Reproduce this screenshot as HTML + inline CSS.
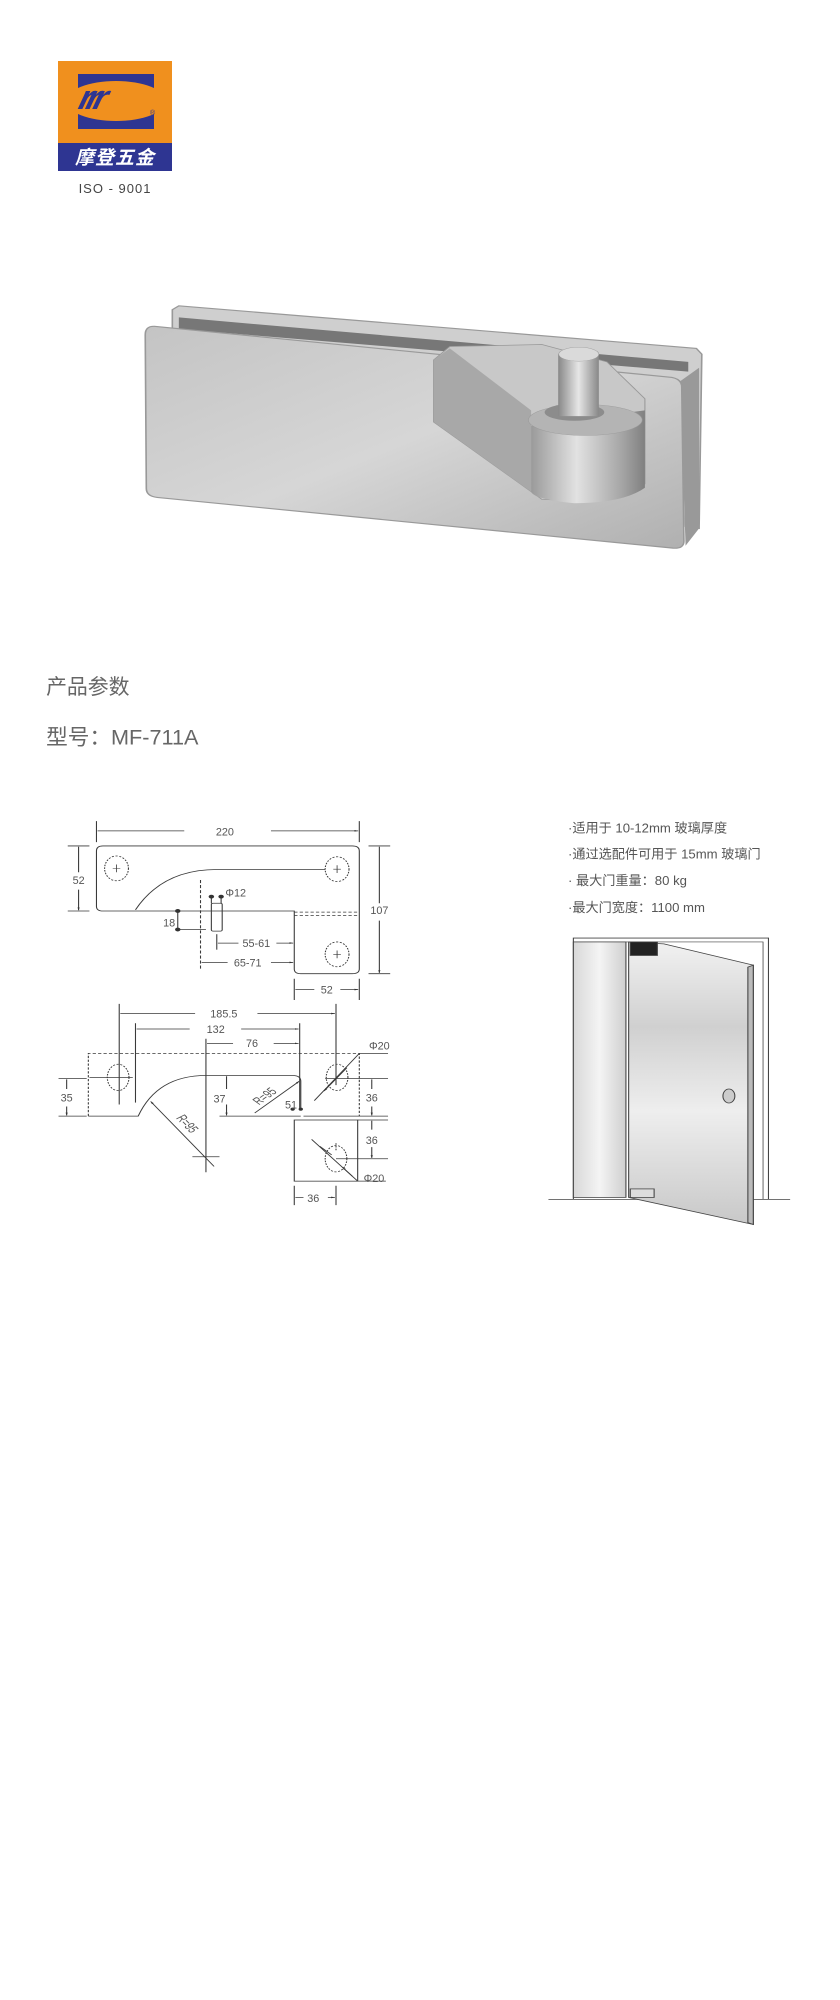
<!DOCTYPE html>
<html><head><meta charset="utf-8"><style>
html,body{margin:0;padding:0;background:#fff;}
body{width:840px;height:2000px;position:relative;overflow:hidden;font-family:"Liberation Sans","Noto Sans CJK SC",sans-serif;}
svg{position:absolute;left:0;}
.t{font-family:"Liberation Sans","Noto Sans CJK SC",sans-serif;fill:#555;}
</style></head><body>

<!-- logo -->
<div style="position:absolute;left:58px;top:61px;width:114px;height:82px;background:#f0901e;overflow:hidden;">
  <div style="position:absolute;left:20px;top:13px;width:76px;height:55px;background:#2e3592;"></div>
  <div style="position:absolute;left:8px;top:20px;width:100px;height:40px;border-radius:50%;background:#f0901e;"></div>
  <div style="position:absolute;left:22px;top:18px;font:italic bold 34px 'Liberation Sans',sans-serif;color:#2e3592;letter-spacing:-6px;transform:skewX(-15deg);">rrr</div>
  <div style="position:absolute;left:92px;top:49px;font:7px 'Liberation Sans',sans-serif;color:#2e3592;">®</div>
</div>
<div style="position:absolute;left:58px;top:143px;width:114px;height:28px;background:#2e3592;color:#fff;font:italic bold 19px 'Noto Sans CJK SC',sans-serif;line-height:28px;text-align:center;letter-spacing:1px;">摩登五金</div>
<div style="position:absolute;left:58px;top:181px;width:114px;text-align:center;font:13px 'Liberation Sans',sans-serif;color:#444;letter-spacing:1px;">ISO - 9001</div>

<!-- product -->
<svg style="top:0" width="840" height="600" viewBox="0 0 1550 1550" preserveAspectRatio="none">
<defs>
<linearGradient id="g1" x1="0" y1="0" x2="1" y2="1"><stop offset="0" stop-color="#c4c4c4"/><stop offset=".5" stop-color="#d6d6d6"/><stop offset="1" stop-color="#b0b0b0"/></linearGradient>
<linearGradient id="g2" x1="0" y1="0" x2="1" y2="0"><stop offset="0" stop-color="#9a9a9a"/><stop offset=".4" stop-color="#e2e2e2"/><stop offset=".8" stop-color="#a5a5a5"/><stop offset="1" stop-color="#808080"/></linearGradient>
<linearGradient id="g3" x1="0" y1="0" x2="1" y2="0"><stop offset="0" stop-color="#888"/><stop offset=".5" stop-color="#e6e6e6"/><stop offset="1" stop-color="#888"/></linearGradient>
</defs>
<polygon points="318,800 330,790 1285,900 1295,915 1290,1365 1265,1360 1262,1000 318,870" fill="#cfcfcf" stroke="#999" stroke-width="3"/>
<polygon points="330,820 1270,935 1270,960 330,850" fill="#777"/>
<polygon points="1255,985 1290,950 1290,1365 1265,1410" fill="#999"/>
<path d="M285,843 L1240,975 Q1258,980 1258,1000 L1262,1398 Q1262,1418 1242,1416 L290,1285 Q270,1282 270,1262 L268,865 Q268,842 285,843 Z" fill="url(#g1)" stroke="#999" stroke-width="3"/>
<path d="M800,930 L830,895 L1000,890 L1120,935 L1190,1030 L1190,1250 L1100,1295 L1000,1290 L800,1090 Z" fill="#c8c8c8" stroke="#999" stroke-width="2"/>
<polygon points="800,930 830,900 980,1060 980,1270 800,1090" fill="#a8a8a8"/>
<path d="M980,1100 L1190,1060 L1190,1260 Q1150,1300 1060,1300 Q985,1290 980,1270 Z" fill="url(#g2)"/>
<ellipse cx="1080" cy="1085" rx="105" ry="40" fill="#b4b4b4" stroke="#999"/>
<ellipse cx="1060" cy="1065" rx="55" ry="22" fill="#8c8c8c"/>
<rect x="1030" y="915" width="75" height="160" fill="url(#g3)"/>
<ellipse cx="1068" cy="915" rx="37" ry="18" fill="#dadada" stroke="#999"/>
</svg>

<!-- section 2 -->
<svg style="top:640px" width="840" height="600" viewBox="0 0 1550 1550" preserveAspectRatio="none">
<defs>
<marker id="a" viewBox="0 0 10 10" refX="10" refY="5" markerWidth="7" markerHeight="7" orient="auto-start-reverse" markerUnits="userSpaceOnUse"><path d="M0,2 L10,5 L0,8 Z" fill="#333"/></marker>
<linearGradient id="dg" x1="0" y1="0" x2="0" y2="1"><stop offset="0" stop-color="#f2f2f2"/><stop offset=".3" stop-color="#d0d0d0"/><stop offset=".6" stop-color="#eeeeee"/><stop offset="1" stop-color="#c8c8c8"/></linearGradient>
<linearGradient id="dg2" x1="0" y1="0" x2="1" y2="0"><stop offset="0" stop-color="#d8d8d8"/><stop offset=".5" stop-color="#f4f4f4"/><stop offset="1" stop-color="#cfcfcf"/></linearGradient>
</defs>
<g class="t">
<text transform="translate(85 140) scale(.714 1)" font-size="54" fill="#666">产品参数</text>
<text transform="translate(85 270) scale(.714 1)" font-size="56" fill="#666">型号：MF-711A</text>
</g>

<g fill="none" stroke="#3a3a3a" stroke-width="2">
<path d="M190,532 H650 Q663,532 663,545 V850 Q663,862 650,862 H555 Q543,862 543,850 V700 H190 Q178,700 178,688 V545 Q178,532 190,532 Z"/>
<path d="M250,697 Q300,593 400,593 H600"/>
<path d="M543,703 H663 M543,712 H663" stroke-dasharray="6,4"/>
<ellipse cx="215" cy="590" rx="22" ry="32" stroke-dasharray="4,3"/>
<ellipse cx="622" cy="592" rx="22" ry="32" stroke-dasharray="4,3"/>
<ellipse cx="622" cy="812" rx="22" ry="32" stroke-dasharray="4,3"/>
<path d="M208,590 H222 M215,580 V600 M615,592 H629 M622,582 V602 M615,812 H629 M622,802 V822" stroke-width="1.5"/>
<path d="M178,468 V522 M663,468 V522"/>
<path d="M340,493 H180 M500,493 H661" marker-end="url(#a)"/>
<path d="M125,532 H165 M125,700 H165"/>
<path d="M145,600 V534 M145,645 V698" marker-end="url(#a)"/>
<path d="M680,532 H720 M680,862 H720"/>
<path d="M700,680 V534 M700,725 V860" marker-end="url(#a)"/>
<path d="M328,700 V748 M328,748 H380"/>
<path d="M370,620 V850" stroke-dasharray="8,5"/>
<rect x="390" y="680" width="20" height="72" rx="3"/>
<path d="M390,663 V680 M408,663 V680"/>
<path d="M400,760 V800"/>
<path d="M440,783 H402 M510,783 H541" marker-end="url(#a)"/>
<path d="M420,833 H372 M500,833 H541" marker-end="url(#a)"/>
<path d="M543,875 V930 M663,875 V930"/>
<path d="M580,903 H545 M628,903 H661" marker-end="url(#a)"/>
<path d="M220,940 V1200 M620,940 V1150"/>
<path d="M360,965 H222 M475,965 H618" marker-end="url(#a)"/>
<path d="M250,990 V1195"/>
<path d="M350,1005 H252 M445,1005 H551" marker-end="url(#a)"/>
<path d="M553,990 V1215 M380,1030 V1375"/>
<path d="M430,1042 H382 M505,1042 H551" marker-end="url(#a)"/>
<path d="M163,1230 V1068 H663 V1230" stroke-dasharray="6,4"/>
<path d="M163,1230 H255 Q290,1125 380,1125 H540 Q555,1125 555,1140 V1215"/>
<ellipse cx="218" cy="1130" rx="20" ry="34" stroke-dasharray="4,3"/>
<ellipse cx="622" cy="1130" rx="20" ry="34" stroke-dasharray="4,3"/>
<path d="M165,1130 H245"/>
<path d="M395,1360 L278,1192" marker-end="url(#a)"/>
<path d="M355,1335 H405"/>
<path d="M108,1133 H160 M108,1230 H160"/>
<path d="M123,1160 V1135 M123,1205 V1228" marker-end="url(#a)"/>
<path d="M405,1230 H555"/>
<path d="M418,1160 V1127 M418,1200 V1228" marker-end="url(#a)"/>
<path d="M470,1222 L552,1140" marker-end="url(#a)"/>
<path d="M600,1133 H716 M560,1230 H716"/>
<path d="M686,1160 V1135 M686,1205 V1228" marker-end="url(#a)"/>
<rect x="543" y="1240" width="117" height="158"/>
<ellipse cx="620" cy="1340" rx="20" ry="34" stroke-dasharray="4,3"/>
<path d="M620,1300 V1320" stroke-dasharray="4,3"/>
<path d="M660,1240 H716 M620,1340 H716"/>
<path d="M686,1265 V1242 M686,1310 V1338" marker-end="url(#a)"/>
<path d="M663,1068 H716 M663,1068 L580,1190" />
<path d="M640,1105 L598,1165" marker-end="url(#a)"/>
<path d="M575,1290 L660,1398 H712"/>
<path d="M590,1308 L612,1330 M650,1385 L632,1362" marker-end="url(#a)"/>
<path d="M543,1410 V1460 M620,1410 V1460"/>
<path d="M560,1440 H545 M605,1440 H618" marker-end="url(#a)"/>
</g>
<g fill="#333">
<circle cx="328" cy="700" r="5"/><circle cx="328" cy="748" r="5"/>
<circle cx="390" cy="663" r="5"/><circle cx="408" cy="663" r="5"/>
<circle cx="540" cy="1212" r="4"/><circle cx="555" cy="1212" r="4"/>
</g>
<g class="t" font-size="28" text-anchor="middle">
<text transform="translate(415 505) scale(.714 1)">220</text>
<text transform="translate(145 630) scale(.714 1)">52</text>
<text transform="translate(700 708) scale(.714 1)">107</text>
<text transform="translate(312 740) scale(.714 1)">18</text>
<text transform="translate(435 663) scale(.714 1)">Φ12</text>
<text transform="translate(473 793) scale(.714 1)">55-61</text>
<text transform="translate(457 843) scale(.714 1)">65-71</text>
<text transform="translate(603 913) scale(.714 1)">52</text>
<text transform="translate(413 975) scale(.714 1)">185.5</text>
<text transform="translate(398 1015) scale(.714 1)">132</text>
<text transform="translate(465 1052) scale(.714 1)">76</text>
<text transform="translate(700 1058) scale(.714 1)">Φ20</text>
<text transform="translate(123 1192) scale(.714 1)">35</text>
<text transform="translate(405 1195) scale(.714 1)">37</text>
<text transform="translate(686 1192) scale(.714 1)">36</text>
<text transform="translate(537 1210) scale(.714 1)">51</text>
<text transform="translate(686 1302) scale(.714 1)">36</text>
<text transform="translate(690 1400) scale(.714 1)">Φ20</text>
<text transform="translate(578 1452) scale(.714 1)">36</text>
<text transform="translate(495 1185) rotate(-45) scale(.714 1)">R=95</text>
<text transform="translate(338 1255) rotate(55) scale(.714 1)">R=95</text>
</g>
<g class="t" font-size="34" fill="#444">
<text transform="translate(1048 497) scale(.714 1)">·适用于 10-12mm 玻璃厚度</text>
<text transform="translate(1048 565) scale(.714 1)">·通过选配件可用于 15mm 玻璃门</text>
<text transform="translate(1048 633) scale(.714 1)">·  最大门重量：80 kg</text>
<text transform="translate(1048 703) scale(.714 1)">·最大门宽度：1100 mm</text>
</g>
<g stroke="#444" stroke-width="2">
<line x1="1012" y1="1445" x2="1458" y2="1445"/>
<path d="M1058,1445 V770 H1418 V1445" fill="none"/>
<path d="M1058,780 H1408 V1445" fill="none" stroke-width="1.5"/>
<rect x="1058" y="780" width="97" height="660" fill="url(#dg2)"/>
<polygon points="1160,780 1225,785 1390,840 1390,1510 1160,1440" fill="url(#dg)"/>
<polygon points="1380,845 1390,840 1390,1510 1380,1505" fill="#bbb"/>
<rect x="1163" y="780" width="50" height="35" fill="#222"/>
<rect x="1163" y="1418" width="44" height="22" fill="#ddd"/>
<ellipse cx="1345" cy="1178" rx="11" ry="18" fill="#ccc"/>
</g>
</svg>
</body></html>
